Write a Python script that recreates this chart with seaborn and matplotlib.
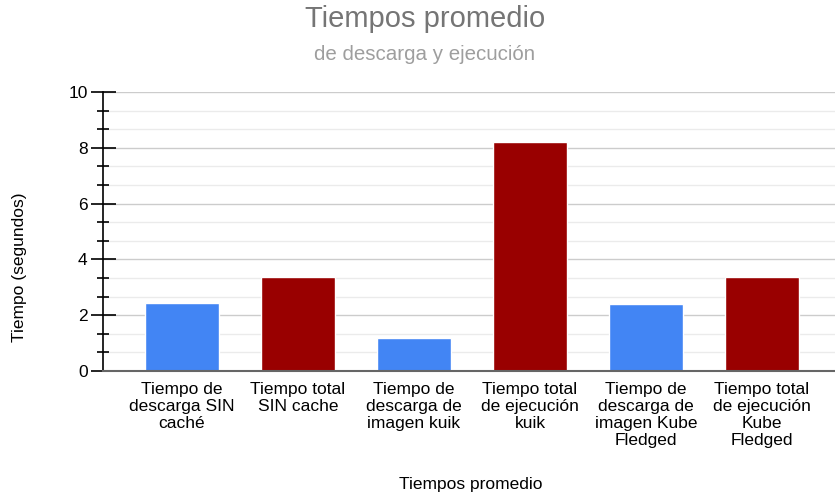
import matplotlib
matplotlib.use("Agg")
import matplotlib.pyplot as plt
import seaborn as sns
import numpy as np
import pandas as pd
from matplotlib.ticker import MultipleLocator

categories = [
    "Tiempo de\ndescarga SIN\ncaché",
    "Tiempo total\nSIN cache",
    "Tiempo de\ndescarga de\nimagen kuik",
    "Tiempo total\nde ejecución\nkuik",
    "Tiempo de\ndescarga de\nimagen Kube\nFledged",
    "Tiempo total\nde ejecución\nKube\nFledged",
]
values = [2.43, 3.37, 1.18, 8.22, 2.39, 3.37]
colors = ["#4285F4", "#990000", "#4285F4", "#990000", "#4285F4", "#990000"]
y_ticks = [0, 2, 4, 6, 8, 10]

sns.set_theme(style="white")
plt.rcParams["font.family"] = ["Liberation Sans", "DejaVu Sans"]

df = pd.DataFrame({"cat": categories, "val": values})

fig = plt.figure(figsize=(8.35, 4.97), dpi=100)
ax = fig.add_axes([103 / 835, (497 - 371) / 497, 1 - 103 / 835, (371 - 92) / 497])

sns.barplot(data=df, x="cat", y="val", hue="cat", palette=colors, legend=False,
            width=0.64, ax=ax, zorder=3, saturation=1)

FS = 12.5
ax.set_ylim(0, 10)
ax.set_xlim(-0.681, 5.63)
ax.set_yticks(y_ticks)
ax.yaxis.set_minor_locator(MultipleLocator(2 / 3))
ax.grid(True, which="major", axis="y", color="#cccccc", lw=1, zorder=0)
ax.grid(True, which="minor", axis="y", color="#ebebeb", lw=1, zorder=0)
ax.tick_params(axis="y", which="major", direction="inout", length=18, width=1.2,
               color="black", labelsize=FS, labelcolor="black", left=True, pad=2)
ax.tick_params(axis="y", which="minor", direction="inout", length=8, width=1.2,
               color="black", left=True)
ax.tick_params(axis="x", length=0, labelsize=FS, labelcolor="black", pad=8)
for lab in ax.get_xticklabels():
    lab.set_linespacing(1.17)

for s in ["top", "right"]:
    ax.spines[s].set_visible(False)
ax.spines["left"].set_color("black")
ax.spines["left"].set_linewidth(1.2)
ax.spines["left"].set_zorder(4)
ax.spines["bottom"].set_color("#666666")
ax.spines["bottom"].set_linewidth(1.5)
ax.spines["bottom"].set_zorder(4)

ax.set_xlabel("")
ax.set_ylabel("")
fig.text(471 / 835, 1 - 484 / 497, "Tiempos promedio", ha="center", va="center",
         fontsize=FS, color="black")
fig.text(20 / 835, 1 - 267 / 497, "Tiempo (segundos)", ha="center", va="center",
         rotation=90, fontsize=FS, color="black")

fig.text(425 / 835, 1 - 19 / 497, "Tiempos promedio", ha="center", va="center",
         fontsize=21, color="#757575")
fig.text(425 / 835, 1 - 55 / 497, "de descarga y ejecución", ha="center", va="center",
         fontsize=14.8, color="#9e9e9e")

fig.savefig("out.png", dpi=100)
